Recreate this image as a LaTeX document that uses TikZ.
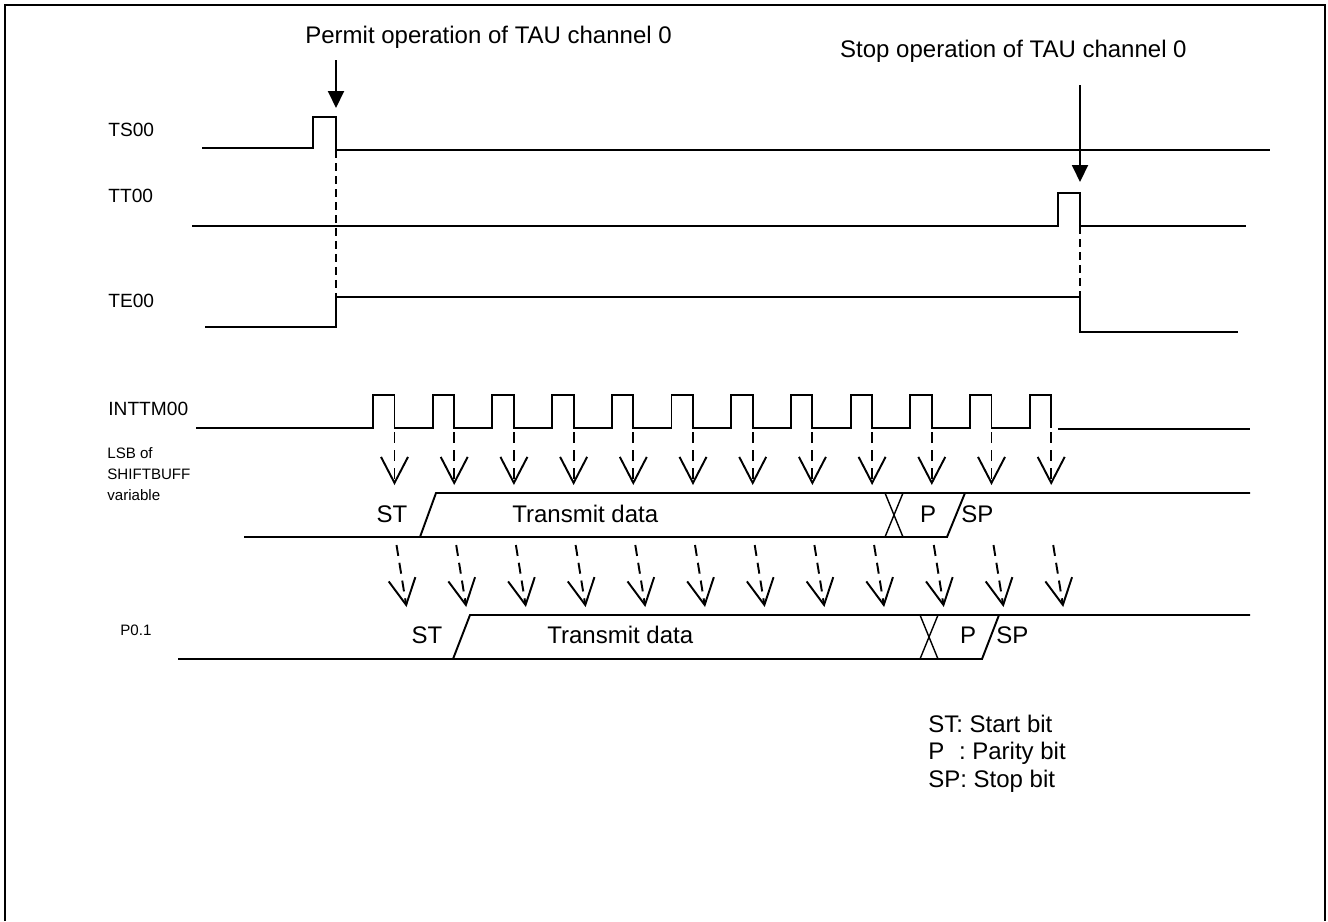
\documentclass[tikz,border=0pt]{standalone}
\usepackage{fontspec}
\setmainfont{Liberation Sans}
\usetikzlibrary{arrows.meta}

\begin{document}
\begin{tikzpicture}[x=0.02cm, y=-0.02cm,
    sig/.style={line width=1.1pt},
    bus/.style={line width=0.8pt},
    guide/.style={dash pattern=on 0.16cm off 0.1cm, line width=0.8pt},
    tick/.style={dash pattern=on 0.22cm off 0.14cm, line width=1.1pt,
                 -{Straight Barb[length=0.52cm, width=0.54cm]}},
    event/.style={line width=1.1pt, -{Triangle[length=0.34cm, width=0.32cm]}},
    lbl/.style={font=\fontsize{13.66}{15.65}\selectfont, inner sep=0pt},
    signame/.style={font=\fontsize{10.9}{13}\selectfont, inner sep=0pt, anchor=west},
    small/.style={font=\fontsize{8.6}{11.9}\selectfont, inner sep=0pt, align=left}
  ]
    \useasboundingbox (0,0) rectangle (1328,921);
    \draw[line width=1.4pt] (5,921) -- (5,5) -- (1325,5) -- (1325,921);
    % Signal names
    \node[signame] (ts) at (108,130) {TS00};
    \node[signame] (tt) at (108,196) {TT00};
    \node[signame] (te) at (108,301) {TE00};
    \node[signame] (intm) at (108,409) {INTTM00};
    \node[small, anchor=north west] (lsb) at (107,447) {LSB of\\SHIFTBUFF\\variable};
    \node[small, anchor=west] (port) at (120,630) {P0.1};
    % Start / stop events
    \node[lbl, anchor=base west] (permit) at (305,43) {Permit operation of TAU channel 0};
    \node[lbl, anchor=base east] (stop) at (1187,57) {Stop operation of TAU channel 0};
    \coordinate (permitfrom) at (336,60);
    \coordinate (permitto) at (336,108);
    \coordinate (stopfrom) at (1080,85);
    \coordinate (stopto) at (1080,182);
    \draw[event] (permitfrom) -- (permitto);
    \draw[event] (stopfrom) -- (stopto);
    % TS00, TT00, TE00
    \draw[sig] (202,148) -- (313,148) -- (313,117) -- (336,117) -- (336,150) -- (1270,150);
    \draw[sig] (192,226) -- (1058,226) -- (1058,193) -- (1080,193) -- (1080,226) -- (1246,226);
    \draw[sig] (205,327) -- (336,327) -- (336,297) -- (1080,297) -- (1080,332) -- (1238,332);
    \coordinate (tsfall) at (336,150);
    \coordinate (terise) at (336,297);
    \coordinate (ttfall) at (1080,226);
    \coordinate (tefall) at (1080,297);
    \draw[guide] (tsfall) -- (terise);
    \draw[guide] (ttfall) -- (tefall);
    % INTTM00 pulses
    \draw[sig] (196,428) foreach \k in {0,...,11} {
      -- ({373+59.7*\k},428) -- ++(0,-33) -- ++(21.5,0) -- ++(0,33)};
    \draw[sig] (1058,429) -- (1250,429);
    % Shift arrows
    \foreach \k in {0,...,11} {
      \coordinate (fall\k) at ({394.5+59.7*\k},432);
      \coordinate (shift\k) at ({394.5+59.7*\k},485);
      \coordinate (out\k) at ({396.5+59.7*\k},545);
      \coordinate (pin\k) at ({406.5+59.7*\k},607);
      \draw[tick] (fall\k) -- (shift\k);
      \draw[tick] (out\k) -- (pin\k);
    }
    % LSB of SHIFTBUFF
    \draw[sig] (244,537) -- (947,537) -- (965,493);
    \draw[sig] (420,537) -- (436,493) -- (1250,493);
    \draw[bus] (885,493) -- (903,537) (903,493) -- (885,537);
    \node[lbl, anchor=base] (st1) at (392,522) {ST};
    \node[lbl, anchor=base west] (data1) at (512,522) {Transmit data};
    \node[lbl, anchor=base] (p1) at (928,522) {P};
    \node[lbl, anchor=base west] (sp1) at (961,522) {SP};
    % P0.1
    \draw[sig] (178,659) -- (982,659) -- (999,615);
    \draw[sig] (453,659) -- (470,615) -- (1250,615);
    \draw[bus] (920,615) -- (938,659) (938,615) -- (920,659);
    \node[lbl, anchor=base] (st2) at (427,643) {ST};
    \node[lbl, anchor=base west] (data2) at (547,643) {Transmit data};
    \node[lbl, anchor=base] (p2) at (968,643) {P};
    \node[lbl, anchor=base west] (sp2) at (996,643) {SP};
    % Legend
    \node[lbl, anchor=base west, align=left] (legend) at (928,787)
      {ST: Start bit\\P\hspace{0.611em}: Parity bit\\SP: Stop bit};
  \end{tikzpicture}
\end{document}
